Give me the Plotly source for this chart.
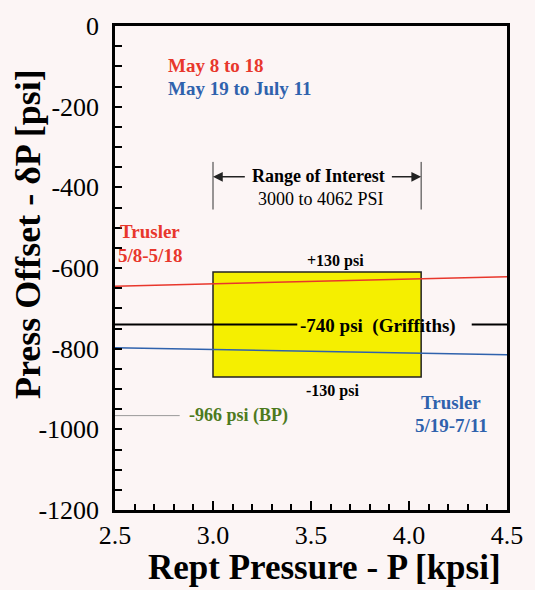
import plotly.graph_objects as go

# ---- data ----
x_range = [2.5, 4.5]
red_x = [2.5, 4.5]
red_y = [-645, -622]
blue_x = [2.5, 4.5]
blue_y = [-798, -815]
griffiths = -740
griffiths_x = [2.5, 3.43, None, 4.32, 4.5]
bp = -966
bp_x = [2.5, 2.83]
roi = [3.0, 4.062]
band = 130

x_ticks = [2.5, 3.0, 3.5, 4.0, 4.5]
x_ticklabels = ["2.5", "3.0", "3.5", "4.0", "4.5"]
y_ticks = [0, -200, -400, -600, -800, -1000, -1200]
y_ticklabels = ["0", "-200", "-400", "-600", "-800", "-1000", "-1200"]

RED = "#e8372c"
BLUE = "#2f62ad"
GREEN = "#4d7a1e"
BG = "#fcf5f5"
FONT = "Liberation Serif"

fig = go.Figure()

fig.add_trace(go.Scatter(x=red_x, y=red_y, mode="lines",
                         line=dict(color=RED, width=1.5), showlegend=False))
fig.add_trace(go.Scatter(x=blue_x, y=blue_y, mode="lines",
                         line=dict(color=BLUE, width=1.5), showlegend=False))
fig.add_trace(go.Scatter(x=griffiths_x, y=[griffiths] * 2 + [None] + [griffiths] * 2,
                         mode="lines", line=dict(color="black", width=2),
                         connectgaps=False, showlegend=False))
fig.add_trace(go.Scatter(x=bp_x, y=[bp, bp], mode="lines",
                         line=dict(color="#999999", width=1), showlegend=False))
# range-of-interest vertical markers
for xv in roi:
    fig.add_trace(go.Scatter(x=[xv, xv], y=[-337, -455], mode="lines",
                             line=dict(color="#333333", width=1), showlegend=False))

fig.add_shape(type="rect", x0=roi[0], x1=roi[1], y0=griffiths - band, y1=griffiths + band,
              fillcolor="#f5ef00", line=dict(color="#222222", width=1.5), layer="below")

ann = []
def txt(x, y, s, color="black", size=18, bold=True, xanchor="center"):
    ann.append(dict(x=x, y=y, xref="x", yref="y", text=f"<b>{s}</b>" if bold else s,
                    showarrow=False, xanchor=xanchor, yanchor="middle",
                    font=dict(family=FONT, size=size, color=color)))

txt(2.76, -98, "May 8 to 18", RED, size=19, xanchor="left")
txt(2.76, -155, "May 19 to July 11", BLUE, size=19, xanchor="left")
txt(3.54, -372, "Range of Interest", size=18)
txt(3.55, -428, "3000 to 4062 PSI", bold=False, size=18)
txt(2.68, -510, "Trusler", RED, size=19)
txt(2.68, -569, "5/8-5/18", RED, size=19)
txt(3.625, -583, "+130 psi", size=16)
txt(3.84, -745, "-740 psi&nbsp;&nbsp;(Griffiths)", size=19)
txt(3.61, -905, "-130 psi", size=16)
txt(4.215, -933, "Trusler", BLUE, size=19)
txt(4.215, -990, "5/19-7/11", BLUE, size=19)
txt(2.865, -966, "-966 psi (BP)", GREEN, size=18, xanchor="left")

# arrows
ann.append(dict(x=roi[0], y=-374, ax=3.17, ay=-374, xref="x", yref="y", axref="x", ayref="y",
                text="", showarrow=True, arrowhead=2, arrowsize=1.3, arrowwidth=1.5, arrowcolor="#222222"))
ann.append(dict(x=roi[1], y=-374, ax=3.905, ay=-374, xref="x", yref="y", axref="x", ayref="y",
                text="", showarrow=True, arrowhead=2, arrowsize=1.3, arrowwidth=1.5, arrowcolor="#222222"))

# axis titles (placed as annotations to match their offset positions)
ann.append(dict(x=-0.222, y=0.57, xref="paper", yref="paper", text="<b>Press Offset - δP [psi]</b>",
                textangle=-90, showarrow=False, xanchor="center", yanchor="middle",
                font=dict(family=FONT, size=36, color="black")))
ann.append(dict(x=0.535, y=-0.118, xref="paper", yref="paper", text="<b>Rept Pressure - P [kpsi]</b>",
                showarrow=False, xanchor="center", yanchor="middle",
                font=dict(family=FONT, size=35, color="black")))

fig.update_layout(
    width=535, height=590,
    margin=dict(l=115, r=22, t=21, b=80),
    paper_bgcolor=BG, plot_bgcolor=BG,
    annotations=ann,
    font=dict(family=FONT, color="black"),
    xaxis=dict(range=x_range, tickvals=x_ticks, ticktext=x_ticklabels,
               showgrid=False, zeroline=False,
               showline=True, linecolor="black", linewidth=2.5, mirror=True,
               ticks="inside", ticklen=9, tickwidth=2, tickcolor="black",
               minor=dict(dtick=0.1, ticks="inside", ticklen=6, tickwidth=1.5, tickcolor="black"),
               tickfont=dict(family=FONT, size=26), ticklabelstandoff=0),
    yaxis=dict(range=[-1200, 0], tickvals=y_ticks, ticktext=y_ticklabels,
               showgrid=False, zeroline=False,
               showline=True, linecolor="black", linewidth=2.5, mirror=True,
               ticks="inside", ticklen=7, tickwidth=2, tickcolor="black",
               minor=dict(dtick=50, ticks="inside", ticklen=7, tickwidth=1.5, tickcolor="black"),
               tickfont=dict(family=FONT, size=26), ticklabelstandoff=8),
)

fig.write_html("out.html")
